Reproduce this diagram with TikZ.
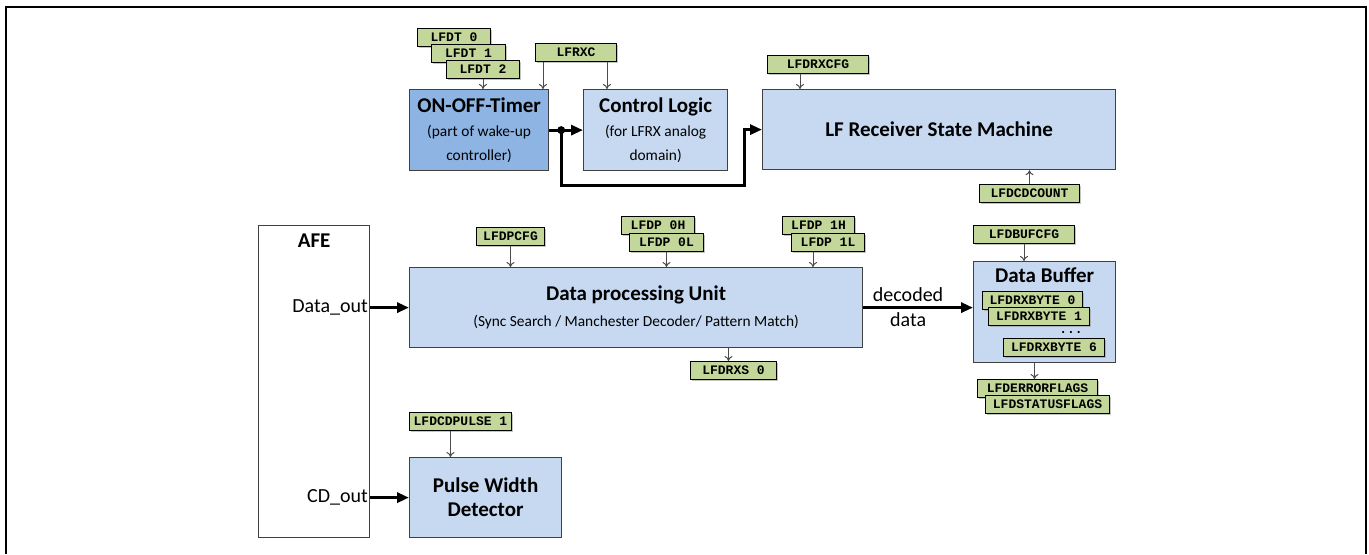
\documentclass[tikz,border=0pt]{standalone}
\usepackage{fontspec}
\setmainfont{Carlito}
\newfontfamily\regfont{Liberation Mono}
\usetikzlibrary{arrows.meta, positioning, shadows}
\definecolor{blkblue}{HTML}{C6D9F1}
\definecolor{tmrblue}{HTML}{8EB4E3}
\definecolor{reggreen}{HTML}{C4D79B}
\newcommand{\blkfont}{\bfseries\fontsize{10.5}{12}\selectfont}
\newcommand{\regtext}{\regfont\bfseries\fontsize{6.5}{7}\selectfont}

\begin{document}
\begin{tikzpicture} [x=0.5pt, y=-0.5pt,
  block/.style = {draw=black!75, fill=blkblue, line width=0.6pt, anchor=north west,
    align=center, inner sep=0pt, font=\fontsize{7.7}{12}\selectfont},
  reg/.style = {draw, fill=reggreen, line width=0.5pt, anchor=north west,
    minimum width=#1, minimum height=9pt, inner sep=0pt, font=\regtext,
    drop shadow={shadow xshift=0.7pt, shadow yshift=-0.7pt, fill=black!45}},
  bus/.style = {line width=1.5pt, -{Triangle[length=6pt, width=5pt]}},
  cfg/.style = {draw=black!70, line width=0.5pt, -{To[length=2.5pt, width=4pt]}}]

\useasboundingbox (0,0) rectangle (1369,554);
\draw [line width=1pt] (6,554) -- (6,7) -- (1366,7) -- (1366,554);

% wake-up path
\node (timer) [block, fill=tmrblue, minimum width=69.5pt, minimum height=40.5pt] at (409,89)
  {{\blkfont ON-OFF-Timer}\\(part of wake-up\\controller)};
\node (ctrl) [block, minimum width=72pt, minimum height=40.5pt] at (583,89)
  {{\blkfont Control Logic}\\(for LFRX analog\\domain)};
\node (fsm) [block, minimum width=176.5pt, minimum height=40pt] at (762,89)
  {\blkfont LF Receiver State Machine};

\node (dt0) [reg=36.5pt] at (417,28) {LFDT 0};
\node (dt1) [reg=37pt] at ([shift={(7pt,-8pt)}]dt0.north west) {LFDT 1};
\node (dt2) [reg=36.5pt] at ([shift={(7.5pt,-8pt)}]dt1.north west) {LFDT 2};
\node (rxc) [reg=40.5pt] at (535,43) {LFRXC};
\node (rxcfg) [reg=50.5pt] at (767,55) {LFDRXCFG};
\node (cdcount) [reg=50pt] at (979,184) {LFDCDCOUNT};

% receive path
\node (afe) [block, fill=white, minimum width=55.5pt, minimum height=156pt] at (258,225) {};
\node (afet) [below=1pt of afe.north, font=\blkfont] {AFE};
\node (dpu) [block, minimum width=226.5pt, minimum height=40pt] at (409,267)
  {{\blkfont Data processing Unit}\\[1pt](Sync Search / Manchester Decoder/ Pattern Match)};
\node (buf) [block, minimum width=71pt, minimum height=50.5pt] at (973,261) {};
\node (buft) [below=0pt of buf.north, font=\blkfont] {Data Buffer};
\node (pwd) [block, minimum width=76pt, minimum height=40pt, font=\blkfont] at (409,457)
  {Pulse Width\\Detector};

\node (dout) [anchor=east, inner sep=1pt, font=\fontsize{10}{12}\selectfont]
  at (afe.east |- dpu.west) {Data\_out};
\node (cdout) [anchor=east, inner sep=1pt, font=\fontsize{10}{12}\selectfont]
  at (afe.east |- pwd.west) {CD\_out};

\node (dpcfg) [reg=34pt] at (476,227) {LFDPCFG};
\node (dp0h) [reg=36.5pt] at (621,216) {LFDP 0H};
\node (dp0l) [reg=37pt] at ([shift={(4pt,-8.5pt)}]dp0h.north west) {LFDP 0L};
\node (dp1h) [reg=36pt] at (782,216) {LFDP 1H};
\node (dp1l) [reg=36.5pt] at ([shift={(4.5pt,-8.5pt)}]dp1h.north west) {LFDP 1L};
\node (rxs0) [reg=43pt] at (690,361) {LFDRXS 0};
\node (bufcfg) [reg=50.5pt] at (973,225) {LFDBUFCFG};
\node (rxb0) [reg=50pt] at (982,291) {LFDRXBYTE 0};
\node (rxb1) [reg=50.5pt] at ([shift={(3pt,-8pt)}]rxb0.north west) {LFDRXBYTE 1};
\node (dots) [font=\regtext, inner sep=0pt, anchor=base] at (1071,333) {...};
\node (rxb6) [reg=50.5pt] at (1003,338) {LFDRXBYTE 6};
\node (errfl) [reg=60pt] at (977,379) {LFDERRORFLAGS};
\node (stafl) [reg=62pt] at ([shift={(4pt,-8pt)}]errfl.north west) {LFDSTATUSFLAGS};
\node (cdpulse) [reg=51pt] at (409,412) {LFDCDPULSE 1};

% thick connections
\coordinate (split) at ([xshift=6pt]timer.east);
\draw [bus] (timer) -- (ctrl);
\fill (split) circle (2pt);
\draw [bus] (split) -- ++(0,55) -| ([xshift=-9pt]fsm.west) -- (fsm.west);
\draw [bus] (dout.east) -- (dpu.west);
\draw [bus] (cdout.east) -- (pwd.west);
\draw [bus] (dpu.east) -- (dpu.east -| buf.west)
  node [midway, xshift=-5pt, align=center, font=\fontsize{10}{12.5}\selectfont] {decoded\\data};

% register connections
\draw [cfg] (dt2) -- (dt2 |- timer.north);
\draw [cfg] ([xshift=4pt]rxc.south west) -- ([xshift=4pt]rxc.south west |- timer.north);
\draw [cfg] ([xshift=-5pt]rxc.south east) -- ([xshift=-5pt]rxc.south east |- ctrl.north);
\draw [cfg] ([xshift=16.5pt]rxcfg.south west) -- ([xshift=16.5pt]rxcfg.south west |- fsm.north);
\draw [cfg] (cdcount) -- (cdcount |- fsm.south);
\draw [cfg] (dpcfg) -- (dpcfg |- dpu.north);
\draw [cfg] (dp0l) -- (dp0l |- dpu.north);
\draw [cfg] ([xshift=11pt]dp1l.south west) -- ([xshift=11pt]dp1l.south west |- dpu.north);
\draw [cfg] ([xshift=-2.5pt]rxs0.north |- dpu.south) -- ([xshift=-2.5pt]rxs0.north);
\draw [cfg] (bufcfg) -- (bufcfg |- buf.north);
\draw [cfg] ([xshift=-1.5pt]errfl.north |- buf.south) -- ([xshift=-1.5pt]errfl.north);
\draw [cfg] ([xshift=-5pt]cdpulse.south) -- ([xshift=-5pt]cdpulse.south |- pwd.north);
\end{tikzpicture}
\end{document}
